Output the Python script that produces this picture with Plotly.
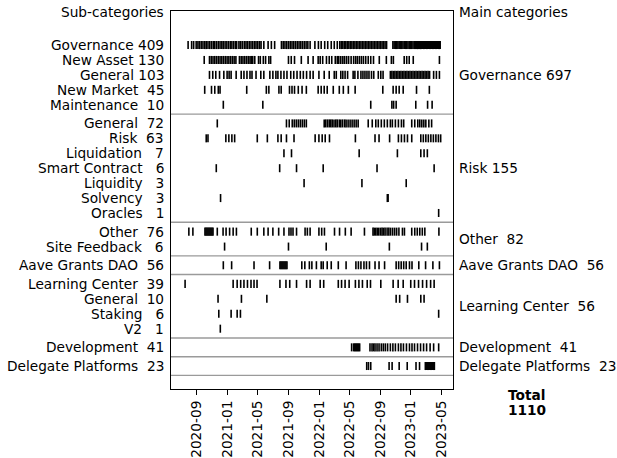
import plotly.graph_objects as go

# ---------------- data ----------------
sub_names = ["Governance", "New Asset", "General", "New Market", "Maintenance",
             "General", "Risk", "Liquidation", "Smart Contract", "Liquidity", "Solvency", "Oracles",
             "Other", "Site Feedback",
             "Aave Grants DAO",
             "Learning Center", "General", "Staking", "V2",
             "Development",
             "Delegate Platforms"]
sub_counts = [409, 130, 103, 45, 10, 72, 63, 7, 6, 3, 3, 1, 76, 6, 56, 39, 10, 6, 1, 41, 23]

main_names = ["Governance", "Risk", "Other", "Aave Grants DAO", "Learning Center",
              "Development", "Delegate Platforms"]
main_counts = [697, 155, 82, 56, 56, 41, 23]
main_sizes = [5, 7, 2, 1, 4, 1, 1]
total_count = 1110

tick_dates = ["2020-09-01", "2021-01-01", "2021-05-01", "2021-09-01", "2022-01-01",
              "2022-05-01", "2022-09-01", "2023-01-01", "2023-05-01"]
tick_labels = ["2020-09", "2021-01", "2021-05", "2021-09", "2022-01",
               "2022-05", "2022-09", "2023-01", "2023-05"]

gov_governance = [
    "2020-07-29", "2020-08-12", "2020-08-20",
    "2020-08-30", "2020-09-06", "2020-09-12", "2020-09-19", "2020-09-26", "2020-10-03", "2020-10-09",
    "2020-10-16", "2020-10-23", "2020-10-30", "2020-11-06", "2020-11-12", "2020-11-19", "2020-11-26",
    "2020-12-03", "2020-12-10", "2020-12-16", "2020-12-23", "2020-12-30", "2021-01-06", "2021-01-13",
    "2021-01-19", "2021-01-26", "2021-02-02", "2021-02-07",
    "2021-02-16", "2021-02-22", "2021-03-01", "2021-03-09", "2021-03-16", "2021-03-22", "2021-03-29",
    "2021-04-05", "2021-04-12", "2021-04-19", "2021-04-25", "2021-05-02", "2021-05-09", "2021-05-15",
    "2021-05-26", "2021-06-12", "2021-06-25", "2021-07-08",
    "2021-08-04", "2021-08-11", "2021-08-18", "2021-08-25", "2021-09-01", "2021-09-08", "2021-09-15",
    "2021-09-22", "2021-09-29", "2021-10-06", "2021-10-13", "2021-10-20", "2021-10-27", "2021-11-03",
    "2021-11-10", "2021-11-17", "2021-11-26",
    "2021-12-15", "2021-12-29", "2022-01-09", "2022-01-23", "2022-02-04", "2022-02-18", "2022-03-02",
    "2022-03-14",
    "2022-03-24", "2022-03-30", "2022-04-05", "2022-04-11", "2022-04-17", "2022-04-23", "2022-04-29",
    "2022-05-05", "2022-05-11", "2022-05-17", "2022-05-23", "2022-05-29", "2022-06-04", "2022-06-10",
    "2022-06-16", "2022-06-22", "2022-06-28", "2022-07-04", "2022-07-10", "2022-07-16", "2022-07-22",
    "2022-07-28", "2022-08-03", "2022-08-09", "2022-08-15", "2022-08-21", "2022-08-27", "2022-09-02",
    "2022-09-08", "2022-09-14", "2022-09-20", "2022-09-26",
    "2022-10-21", "2022-10-26", "2022-10-31", "2022-11-05", "2022-11-10", "2022-11-15", "2022-11-20",
    "2022-11-25", "2022-11-30", "2022-12-05", "2022-12-10", "2022-12-15", "2022-12-20", "2022-12-25",
    "2022-12-30", "2023-01-04", "2023-01-09", "2023-01-14", "2023-01-19", "2023-01-24",
    "2023-01-27", "2023-01-30", "2023-02-02", "2023-02-05", "2023-02-08", "2023-02-11", "2023-02-14",
    "2023-02-17", "2023-02-20", "2023-02-23", "2023-02-26", "2023-03-01", "2023-03-04", "2023-03-07",
    "2023-03-10", "2023-03-13", "2023-03-16", "2023-03-19", "2023-03-22", "2023-03-25", "2023-03-28",
    "2023-03-31", "2023-04-03", "2023-04-06", "2023-04-09", "2023-04-12", "2023-04-15", "2023-04-18",
    "2023-04-21", "2023-04-24", "2023-04-27"]

gov_new_asset = [
    "2020-10-01",
    "2020-10-22", "2020-10-29", "2020-11-05", "2020-11-12", "2020-11-19", "2020-11-26", "2020-12-03",
    "2020-12-10", "2020-12-17", "2020-12-24", "2020-12-31", "2021-01-07", "2021-01-14", "2021-01-21",
    "2021-01-28", "2021-02-04", "2021-02-18", "2021-02-25", "2021-03-04", "2021-03-11", "2021-03-18",
    "2021-03-25", "2021-04-01",
    "2021-04-06", "2021-04-12", "2021-04-20", "2021-05-05", "2021-05-12", "2021-05-24", "2021-06-02",
    "2021-06-15", "2021-06-22",
    "2021-09-01", "2021-09-12", "2021-09-25", "2021-10-22", "2021-11-18", "2021-12-08",
    "2021-12-28", "2022-01-05", "2022-01-15", "2022-01-30", "2022-02-10", "2022-02-20", "2022-03-06",
    "2022-03-14", "2022-03-20", "2022-03-28", "2022-04-05", "2022-04-12", "2022-04-20", "2022-04-28",
    "2022-05-08", "2022-05-18",
    "2022-05-26", "2022-06-02", "2022-06-10", "2022-06-18", "2022-06-26", "2022-07-05", "2022-07-15",
    "2022-07-25", "2022-08-05",
    "2022-08-28", "2022-09-25", "2022-10-15", "2022-10-23",
    "2022-12-05", "2022-12-15", "2022-12-25", "2023-01-10", "2023-04-24"]

gov_general = [
    "2020-10-22", "2020-11-04", "2020-11-16", "2020-12-01", "2020-12-18", "2020-12-31", "2021-01-08",
    "2021-01-16", "2021-02-05", "2021-02-25", "2021-03-08", "2021-03-20", "2021-04-01", "2021-04-09",
    "2021-04-25", "2021-05-14", "2021-05-26", "2021-06-19", "2021-07-01", "2021-07-13", "2021-07-21",
    "2021-08-02", "2021-08-14", "2021-08-26", "2021-09-10", "2021-09-22", "2021-10-05", "2021-10-18",
    "2021-10-30", "2021-11-12", "2021-11-26", "2021-12-08",
    "2021-12-31", "2022-01-21", "2022-02-10", "2022-03-02", "2022-03-10", "2022-03-28", "2022-04-05",
    "2022-04-14", "2022-04-24", "2022-05-16", "2022-05-23", "2022-06-04", "2022-06-16", "2022-06-24",
    "2022-07-02", "2022-07-10", "2022-07-18", "2022-07-28", "2022-08-06", "2022-08-24", "2022-09-03",
    "2022-09-12",
    "2022-10-11", "2022-10-17", "2022-10-23", "2022-10-29", "2022-11-04", "2022-11-10", "2022-11-16",
    "2022-11-22", "2022-11-28", "2022-12-04", "2022-12-10", "2022-12-16", "2022-12-22", "2022-12-28",
    "2023-01-03", "2023-01-09", "2023-01-15", "2023-01-21", "2023-01-27", "2023-02-02", "2023-02-08",
    "2023-02-14", "2023-02-20", "2023-02-26", "2023-03-04", "2023-03-10", "2023-03-16",
    "2023-04-01", "2023-04-12", "2023-04-24"]

gov_new_market = [
    "2020-10-03", "2020-10-30", "2020-11-12", "2020-11-26", "2020-12-03", "2021-03-19", "2021-06-05",
    "2021-06-15", "2021-07-25", "2021-08-03", "2021-09-05", "2021-09-15", "2021-09-25", "2021-10-10",
    "2021-10-25", "2021-11-11", "2021-12-28", "2022-01-09", "2022-01-21", "2022-02-02", "2022-02-26",
    "2022-03-22", "2022-04-07", "2022-04-27", "2022-05-24", "2022-09-11", "2022-10-22", "2022-11-03",
    "2022-11-15", "2022-12-01", "2023-01-23", "2023-03-15"]

gov_maintenance = ["2020-12-16", "2021-05-22", "2022-07-25", "2022-10-17", "2022-10-24", "2022-11-03",
                   "2023-01-20", "2023-03-08", "2023-03-26"]

risk_general = [
    "2020-11-22", "2021-08-24", "2021-09-04", "2021-09-16", "2021-09-24", "2021-10-02", "2021-10-10",
    "2021-10-18", "2021-10-26", "2021-11-03", "2021-11-11",
    "2022-01-21", "2022-01-27", "2022-02-03", "2022-02-10", "2022-02-16", "2022-02-22", "2022-03-01",
    "2022-03-08", "2022-03-14", "2022-03-22", "2022-03-28", "2022-04-04", "2022-04-12", "2022-04-18",
    "2022-04-26", "2022-05-04", "2022-05-12", "2022-05-20", "2022-05-28", "2022-06-05",
    "2022-07-15", "2022-07-31", "2022-08-14", "2022-08-24", "2022-09-05", "2022-09-17", "2022-09-29",
    "2022-10-11", "2022-10-19", "2022-10-31", "2022-11-12", "2022-11-24", "2022-12-03",
    "2023-01-04", "2023-01-16", "2023-01-28", "2023-02-05", "2023-02-13", "2023-02-21", "2023-03-01",
    "2023-03-13", "2023-03-24"]

risk_risk = [
    "2020-10-09", "2020-10-16", "2020-12-26", "2021-01-07", "2021-01-19", "2021-01-30", "2021-04-30",
    "2021-06-09", "2021-07-21", "2021-08-03", "2021-08-24", "2021-09-23", "2021-12-16", "2021-12-31",
    "2022-01-13", "2022-01-25", "2022-02-11", "2022-05-25", "2022-08-11", "2022-08-27", "2022-10-08",
    "2022-11-12", "2022-11-24", "2022-12-06", "2022-12-18", "2023-01-04", "2023-02-09", "2023-02-19",
    "2023-03-01", "2023-03-11", "2023-03-21", "2023-03-31", "2023-04-10", "2023-04-20", "2023-04-29"]

risk_liquidation = ["2021-08-14", "2021-09-13", "2022-06-09", "2022-11-08", "2023-02-09", "2023-02-22",
                    "2023-03-07"]
risk_smart_contract = ["2020-11-18", "2021-07-28", "2021-10-03", "2022-01-17", "2022-08-19", "2023-04-03"]
risk_liquidity = ["2021-11-02", "2022-06-20", "2022-12-13"]
risk_solvency = ["2020-12-05", "2022-09-29", "2022-10-02"]
risk_oracles = ["2023-04-21"]

other_other = [
    "2020-08-01", "2020-08-17", "2020-10-04", "2020-10-08", "2020-10-12", "2020-10-16", "2020-10-20",
    "2020-10-24", "2020-10-28", "2020-11-01", "2020-11-05", "2020-11-22", "2020-12-15", "2020-12-27",
    "2021-01-10", "2021-01-24", "2021-02-06", "2021-04-06", "2021-04-30", "2021-05-26", "2021-06-12",
    "2021-07-01", "2021-07-24", "2021-08-14", "2021-09-03", "2021-09-11", "2021-09-19", "2021-10-03",
    "2021-11-06", "2021-11-15", "2021-11-26", "2021-12-31", "2022-01-11", "2022-01-22", "2022-03-03",
    "2022-03-23", "2022-04-15", "2022-05-08", "2022-06-30", "2022-08-03", "2022-08-08", "2022-08-14",
    "2022-08-20", "2022-08-26", "2022-09-02", "2022-09-08", "2022-09-14", "2022-09-20", "2022-09-28",
    "2022-10-05", "2022-10-12", "2022-10-20", "2022-10-28", "2022-11-05", "2022-11-14", "2022-11-28",
    "2022-12-06", "2023-01-04", "2023-01-16", "2023-01-26", "2023-02-05", "2023-02-15", "2023-02-25",
    "2023-04-22"]
other_site_feedback = ["2020-12-21", "2021-09-01", "2022-01-29", "2022-10-07", "2023-02-12", "2023-03-07"]

aave_grants = [
    "2020-12-16", "2021-01-18", "2021-04-17", "2021-06-18", "2021-07-29", "2021-08-02", "2021-08-06",
    "2021-08-10", "2021-08-14", "2021-08-18", "2021-08-22", "2021-08-26", "2021-10-24", "2021-11-05",
    "2021-11-23", "2021-12-03", "2021-12-21", "2022-01-09", "2022-01-17", "2022-02-02", "2022-02-18",
    "2022-03-18", "2022-04-18", "2022-05-27", "2022-06-06", "2022-06-16", "2022-06-28", "2022-07-08",
    "2022-07-20", "2022-08-11", "2022-08-27", "2022-09-18", "2022-11-03", "2022-11-13", "2022-11-23",
    "2022-12-03", "2022-12-13", "2022-12-26", "2023-01-05", "2023-02-01", "2023-02-28", "2023-03-29",
    "2023-04-24"]

lc_learning_center = [
    "2020-07-17", "2021-01-24", "2021-02-09", "2021-02-23", "2021-03-08", "2021-03-22", "2021-04-05",
    "2021-04-17", "2021-04-29", "2021-07-29", "2021-08-22", "2021-09-06", "2021-10-03", "2021-11-12",
    "2021-11-26", "2022-01-05", "2022-01-19", "2022-03-18", "2022-03-31", "2022-04-14", "2022-04-30",
    "2022-05-25", "2022-06-08", "2022-06-22", "2022-07-11", "2022-07-24", "2022-09-03", "2022-10-22",
    "2022-11-11", "2022-12-01", "2022-12-31", "2023-01-15", "2023-01-31", "2023-02-16", "2023-03-04",
    "2023-03-20", "2023-04-03"]
lc_general = ["2020-11-25", "2021-02-26", "2021-06-07", "2022-11-03", "2022-11-17", "2022-12-18",
              "2023-02-09", "2023-02-22"]
lc_staking = ["2020-11-28", "2021-01-16", "2021-02-09", "2021-02-22", "2023-04-21"]
lc_v2 = ["2020-12-04"]

development = [
    "2022-05-10", "2022-05-18", "2022-05-22", "2022-05-26", "2022-05-30", "2022-06-03", "2022-06-07",
    "2022-06-11", "2022-07-22", "2022-07-30", "2022-08-05", "2022-08-11", "2022-08-19", "2022-08-27",
    "2022-09-05", "2022-09-13", "2022-09-21", "2022-09-30", "2022-10-11", "2022-10-21", "2022-10-31",
    "2022-11-12", "2022-11-22", "2022-12-02", "2022-12-14", "2022-12-26", "2023-01-05", "2023-01-15",
    "2023-01-27", "2023-02-08", "2023-02-20", "2023-03-04", "2023-03-18", "2023-04-01", "2023-04-21"]

delegate_platforms = [
    "2022-07-09", "2022-07-16", "2022-07-25", "2022-10-06", "2022-10-18", "2022-11-15", "2022-12-17",
    "2023-01-21", "2023-02-04", "2023-02-27", "2023-03-02", "2023-03-05", "2023-03-08", "2023-03-11",
    "2023-03-14", "2023-03-17", "2023-03-20", "2023-03-23", "2023-03-26", "2023-03-29", "2023-04-01",
    "2023-04-04"]

row_events = [gov_governance, gov_new_asset, gov_general, gov_new_market, gov_maintenance,
              risk_general, risk_risk, risk_liquidation, risk_smart_contract, risk_liquidity,
              risk_solvency, risk_oracles,
              other_other, other_site_feedback,
              aave_grants,
              lc_learning_center, lc_general, lc_staking, lc_v2,
              development,
              delegate_platforms]

# ---------------- layout helpers ----------------
NB = "\u00a0"
FONT = "DejaVu Sans"
FS = 13.7
GROUP_GAP = 1.25
HALF = 0.27

# row positions (top -> bottom)
row_y = []
group_bounds = []
y = 0.0
for gi, size in enumerate(main_sizes):
    if gi > 0:
        y += GROUP_GAP - 1
    start = y
    for k in range(size):
        row_y.append(y)
        y += 1
    group_bounds.append((start, y - 1))
last_y = row_y[-1]

fig = go.Figure()
for ry, events in zip(row_y, row_events):
    xs, ys = [], []
    for d in events:
        xs += [d, d, None]
        ys += [ry - HALF, ry + HALF, None]
    fig.add_trace(go.Scatter(x=xs, y=ys, mode="lines",
                             line=dict(color="black", width=1.6),
                             hoverinfo="skip", showlegend=False))

shapes = []
for (s, e) in group_bounds:
    sep = e + GROUP_GAP / 2
    shapes.append(dict(type="line", xref="paper", x0=0, x1=1, yref="y", y0=sep, y1=sep,
                       line=dict(color="#9a9a9a", width=1.4), layer="below"))

annotations = []
for name, cnt, ry in zip(sub_names, sub_counts, row_y):
    label = f"{name} {cnt:>3}".replace(" ", NB)
    annotations.append(dict(text=label, xref="paper", x=0, xanchor="right", xshift=-5,
                            yref="y", y=ry, yanchor="middle", showarrow=False,
                            font=dict(family=FONT, size=FS, color="black")))
for name, cnt, (s, e) in zip(main_names, main_counts, group_bounds):
    label = f"{name} {cnt:>3}".replace(" ", NB)
    annotations.append(dict(text=label, xref="paper", x=1, xanchor="left", xshift=4,
                            yref="y", y=(s + e) / 2, yanchor="middle", showarrow=False,
                            font=dict(family=FONT, size=FS, color="black")))
annotations.append(dict(text="Sub-categories", xref="paper", x=0, xanchor="right", xshift=-5,
                        yref="paper", y=1, yanchor="middle", yshift=-1, showarrow=False,
                        font=dict(family=FONT, size=FS, color="black")))
annotations.append(dict(text="Main categories", xref="paper", x=1, xanchor="left", xshift=4,
                        yref="paper", y=1, yanchor="middle", yshift=-1, showarrow=False,
                        font=dict(family=FONT, size=FS, color="black")))
annotations.append(dict(text="<b>Total</b>", xref="paper", x=1.262, xanchor="center",
                        yref="paper", y=0, yanchor="middle", yshift=-6, showarrow=False,
                        font=dict(family=FONT, size=FS, color="black")))
annotations.append(dict(text=f"<b>{total_count}</b>", xref="paper", x=1.262, xanchor="center",
                        yref="paper", y=0, yanchor="middle", yshift=-21, showarrow=False,
                        font=dict(family=FONT, size=FS, color="black")))

top_pad = 2.28
bottom_pad = 1.54

fig.update_layout(
    width=617, height=458,
    margin=dict(l=171, r=164, t=11, b=69, pad=0, autoexpand=False),
    paper_bgcolor="white", plot_bgcolor="white",
    shapes=shapes, annotations=annotations,
    font=dict(family=FONT, size=FS, color="black"),
    xaxis=dict(type="date", range=["2020-05-22", "2023-06-17"],
               tickvals=tick_dates, ticktext=tick_labels, tickangle=-90,
               ticks="outside", ticklen=5, tickwidth=1.2, tickcolor="black",
               showgrid=False, zeroline=False, showline=True, mirror=True,
               linecolor="black", linewidth=1.3, automargin=False,
               tickfont=dict(family=FONT, size=FS, color="black")),
    yaxis=dict(range=[last_y + bottom_pad, -top_pad], showticklabels=False, ticks="",
               showgrid=False, zeroline=False, showline=True, mirror=True,
               linecolor="black", linewidth=1.3, automargin=False),
)

# remove the default page margin so the figure fills the window exactly
fig.write_html("out.html", config={"displayModeBar": False},
               post_script="document.body.style.margin='0px';document.body.style.overflow='hidden';")
